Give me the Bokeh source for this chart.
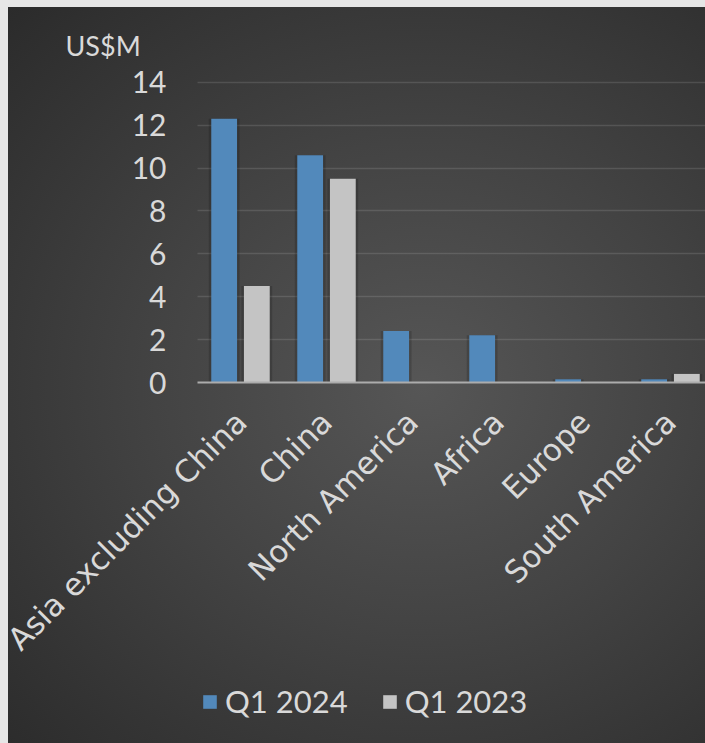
import math
from bokeh.plotting import figure
from bokeh.models import Range1d, FixedTicker, ColumnDataSource
from bokeh.embed import file_html
from bokeh.resources import INLINE

categories = ["Asia excluding China", "China", "North America", "Africa", "Europe", "South America"]
q1_2024 = [12.3, 10.6, 2.4, 2.2, 0.15, 0.15]
q1_2023 = [4.5, 9.5, 0.0, 0.0, 0.0, 0.4]
y_ticks = [0, 2, 4, 6, 8, 10, 12, 14]
unit_label = "US$M"
series_names = ["Q1 2024", "Q1 2023"]

BLUE = "#5289bb"
GREY = "#c4c4c4"
TEXT = "#d9d9d9"

PX = 21.45   # pixels per unit on the value axis
CW = 86.0    # pixels per category
X0 = -0.5    # category-axis start (where the value axis sits)
X1 = X0 + 508 / CW

idx = list(range(len(categories)))
src = ColumnDataSource(dict(
    x1=[i - 0.19 for i in idx], x2=[i + 0.19 for i in idx],
    a=q1_2024, b=q1_2023))

p = figure(width=705, height=743, output_backend="svg", toolbar_location=None,
           x_range=Range1d(X0 - (197 - 8) / CW, X1),
           y_range=Range1d(-(743 - 382) / PX, (382 - 69) / PX),
           min_border_left=8, min_border_right=0, min_border_top=69,
           min_border_bottom=0, title=unit_label)
p.styles = {"background": "linear-gradient(#e6e6e6,#e6e6e6) left top/8px 100% no-repeat, "
                          "linear-gradient(#e6e6e6,#e6e6e6) left top/100% 7px no-repeat, "
                          "radial-gradient(ellipse farthest-corner at 60% 52%, #565656 0%, #434343 45%, #2a2a2a 100%)"}
p.background_fill_alpha = 0
p.border_fill_alpha = 0
p.outline_line_color = None

p.title.align = "left"
p.title.offset = 65 - 8
p.title.text_font = "Lato"
p.title.text_font_size = "27px"
p.title.text_font_style = "normal"
p.title.text_color = TEXT
p.title.standoff = 16

# soft shadows behind the bars
for col, xcol in (("a", "x1"), ("b", "x2")):
    p.vbar(x=xcol, top=col, bottom=0, width=0.30 + 5 / CW, source=src,
           fill_color="#000000", fill_alpha=0.16, line_color=None)

p.vbar(x="x1", top="a", width=0.30, source=src, fill_color=BLUE, line_color=None,
       legend_label=series_names[0])
p.vbar(x="x2", top="b", width=0.30, source=src, fill_color=GREY, line_color=None,
       legend_label=series_names[1])

p.xgrid.grid_line_color = None
yg = p.ygrid[0]
yg.grid_line_color = "#ffffff"
yg.grid_line_alpha = 0.12
yg.grid_line_width = 1.5
yg.ticker = FixedTicker(ticks=y_ticks[1:])
if "cross_bounds" in yg.properties():
    yg.cross_bounds = (X0, X1)

ya = p.yaxis[0]
ya.fixed_location = X0
ya.ticker = FixedTicker(ticks=y_ticks)
ya.axis_line_color = None
ya.major_tick_line_color = None
ya.minor_tick_line_color = None
ya.major_tick_out = 0
ya.major_tick_in = 0
ya.major_label_standoff = 31
ya.major_label_text_font = "Lato"
ya.major_label_text_font_size = "30px"
ya.major_label_text_color = TEXT

xa = p.xaxis[0]
xa.fixed_location = 0
xa.bounds = (X0, X1)
xa.ticker = FixedTicker(ticks=idx)
xa.major_label_overrides = {i: c for i, c in zip(idx, categories)}
xa.major_label_orientation = math.pi / 4
xa.axis_line_color = "#acacac"
xa.axis_line_width = 2
xa.major_tick_line_color = None
xa.minor_tick_line_color = None
xa.major_tick_out = 0
xa.major_tick_in = 0
xa.major_label_standoff = 34
xa.major_label_text_font = "DejaVu Sans"
xa.major_label_text_font_size = "31px"
xa.major_label_text_color = TEXT

lg = p.legend[0]
lg.orientation = "horizontal"
lg.location = (201 - 8, 743 - 720)
lg.glyph_width = 17
lg.glyph_height = 17
lg.label_standoff = 7
lg.spacing = 33
lg.padding = 0
lg.margin = 0
lg.label_text_font = "Lato"
lg.label_text_font_size = "31px"
lg.label_text_color = TEXT
lg.label_height = 24
lg.background_fill_alpha = 0
lg.border_line_alpha = 0

open("out.html", "w").write(file_html(p, INLINE))
